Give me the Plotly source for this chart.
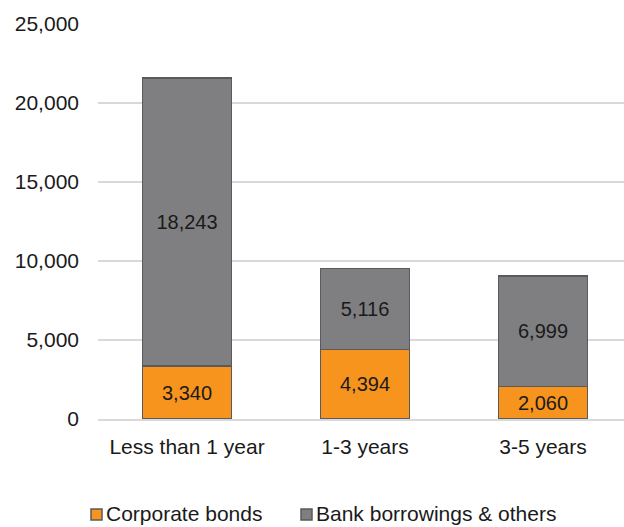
import plotly.graph_objects as go

categories = ["Less than 1 year", "1-3 years", "3-5 years"]
corporate_bonds = [3340, 4394, 2060]
bank_borrowings = [18243, 5116, 6999]
series_names = ["Corporate bonds", "Bank borrowings & others"]
y_ticks = [0, 5000, 10000, 15000, 20000, 25000]

orange = "#F7941D"
gray = "#7F7F82"
edge = "#5A5A5C"
text_color = "#1a1a1a"
font_family = "Liberation Sans, Arial, sans-serif"

fig = go.Figure()
for name, values, color in [(series_names[0], corporate_bonds, orange),
                            (series_names[1], bank_borrowings, gray)]:
    fig.add_trace(go.Bar(
        x=categories, y=values, name=name,
        marker=dict(color=color, line=dict(color=edge, width=1.5)),
        text=[f"{v:,}" for v in values], textposition="inside",
        insidetextanchor="middle", textfont=dict(color=text_color, size=20),
        width=0.5, showlegend=False,
    ))

# Legend drawn below the plot: small outlined squares followed by labels
legend_items = [(series_names[0], orange, 91), (series_names[1], gray, 301)]
for name, color, x0 in legend_items:
    fig.add_shape(type="rect", xref="paper", yref="paper",
                  x0=(x0 - 98) / 526, x1=(x0 + 11 - 98) / 526,
                  y0=(419 - 520) / 395, y1=(419 - 509) / 395,
                  fillcolor=color, line=dict(color=edge, width=1.5))
    fig.add_annotation(text=name, xref="paper", yref="paper",
                       x=(x0 + 13 - 98) / 526, y=(419 - 513) / 395,
                       xanchor="left", yanchor="middle", showarrow=False,
                       font=dict(size=21, color=text_color))

fig.update_layout(
    barmode="stack",
    width=624, height=527,
    margin=dict(l=98, r=0, t=24, b=108),
    plot_bgcolor="white", paper_bgcolor="white",
    font=dict(family=font_family, size=21, color=text_color),
    showlegend=False,
    uniformtext=dict(mode="show", minsize=20),
)
fig.update_xaxes(
    range=[-0.5, 2.455], showgrid=False, showline=True, linecolor="#D9D9D9",
    linewidth=2, ticks="", tickfont=dict(size=21), ticklabelstandoff=8,
)
fig.update_yaxes(
    range=[0, 25000], tickvals=y_ticks, ticktext=[f"{v:,}" for v in y_ticks],
    showgrid=True, gridcolor="#D9D9D9", gridwidth=2, zeroline=False,
    showline=False, ticks="", ticklabelstandoff=18, tickfont=dict(size=21),
)

fig.write_html("out.html")
